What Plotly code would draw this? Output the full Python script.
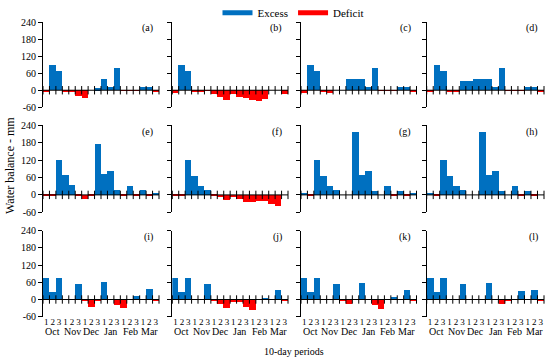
import plotly.graph_objects as go

# ---------------- data ----------------
months = ["Oct", "Nov", "Dec", "Jan", "Feb", "Mar"]
dekad_labels = ["1", "2", "3"] * 6
panel_tags = ["(a)", "(b)", "(c)", "(d)", "(e)", "(f)",
              "(g)", "(h)", "(i)", "(j)", "(k)", "(l)"]
y_ticks = [-60, 0, 60, 120, 180, 240]
y_tick_text = ["-60", "0", "60", "120", "180", "240"]

wb_a = [-7, 90, 68, -3, -7, -21, -26, 0, 7, 41, 10, 79, -2, -2, -2, 10, 13, -3]
wb_b = [-8, 90, 67, -3, -6, -2, -13, -24, -35, -14, -22, -27, -33, -39, -32, 0, 0, -12]
wb_c = [-8, 90, 67, -3, -8, 0, 0, 38, 38, 40, 10, 78, -2, -2, -2, 10, 12, -3]
wb_d = [-7, 90, 68, -3, -3, 32, 32, 38, 38, 40, 10, 79, -2, -2, -2, 10, 13, -3]
wb_e = [-2, -3, 121, 66, 32, -4, -14, -3, 175, 72, 83, 15, -3, 31, -3, 15, -5, 3]
wb_f = [-3, -3, 120, 65, 31, 16, -3, -8, -17, -8, -14, -25, -25, -23, -23, -31, -38, 0]
wb_g = [4, -3, 120, 64, 30, 15, 0, 0, 215, 68, 80, 13, 0, 28, -3, 13, -3, 5]
wb_h = [3, -3, 119, 63, 29, 15, 0, 0, 215, 68, 80, 12, 0, 29, -3, 14, -3, 0]
wb_i = [77, 27, 77, 0, 0, 56, -5, -26, -3, 62, 0, -17, -29, 0, 13, 0, 36, -5]
wb_j = [76, 26, 76, 0, 0, 55, -5, -14, -29, -8, -8, -25, -37, 0, 3, 0, 35, -5]
wb_k = [75, 26, 75, 0, 0, 55, -5, -15, 0, 58, 0, -17, -31, 0, 10, 0, 35, -5]
wb_l = [76, 26, 76, 0, 0, 55, 0, 0, 0, 59, 0, -15, -5, 0, 29, 0, 35, -5]

panels = [wb_a, wb_b, wb_c, wb_d, wb_e, wb_f, wb_g, wb_h, wb_i, wb_j, wb_k, wb_l]

# ---------------- style ----------------
EXCESS = "#0070C0"
DEFICIT = "#FF0000"
FONT = "Liberation Serif"
W, H = 550, 360
col_px = [(43, 159), (172.3, 288), (301, 416.5), (426.7, 544)]
row_px = [(22, 107.3), (125.3, 212.3), (230.7, 316.7)]

fig = go.Figure()
layout = {}
annotations = []

for k, vals in enumerate(panels):
    r, c = divmod(k, 4)
    n = k + 1
    sfx = "" if n == 1 else str(n)
    xa, ya = "x" + sfx, "y" + sfx
    idx = list(range(len(vals)))
    colors = [EXCESS if v >= 0 else DEFICIT for v in vals]
    fig.add_trace(go.Bar(x=idx, y=vals, marker=dict(color=colors, line=dict(width=0)),
                         width=1, xaxis=xa, yaxis=ya, showlegend=False, hoverinfo="skip"))
    # zero baseline with crossing ticks at period boundaries
    bx = [i - 0.5 for i in range(len(vals) + 1)]
    fig.add_trace(go.Scatter(x=bx, y=[0] * len(bx), mode="lines+markers",
                             line=dict(color="black", width=1),
                             marker=dict(symbol="line-ns", size=6, color="black",
                                         line=dict(width=1, color="black")),
                             xaxis=xa, yaxis=ya, showlegend=False, hoverinfo="skip",
                             cliponaxis=False))
    x0, x1 = col_px[c]
    yt, yb = row_px[r]
    layout["xaxis" + sfx] = dict(domain=[x0 / W, x1 / W], anchor=ya, range=[-0.5, 17.5],
                                 showgrid=False, zeroline=False, showline=False, ticks="",
                                 tickvals=idx, ticktext=dekad_labels, tickangle=0,
                                 automargin=False, ticklabelstandoff=-2,
                                 showticklabels=(r == 2), tickfont=dict(size=9))
    layout["yaxis" + sfx] = dict(domain=[1 - yb / H, 1 - yt / H], anchor=xa, range=[-60, 240],
                                 tickvals=y_ticks, ticktext=y_tick_text, ticks="outside",
                                 ticklen=4, tickcolor="black", showline=True,
                                 linecolor="black", linewidth=1, showgrid=False,
                                 zeroline=False, showticklabels=(c == 0), automargin=False,
                                 tickfont=dict(size=10))
    annotations.append(dict(text=panel_tags[k], xref=xa + " domain", yref=ya + " domain",
                            x=0.966, y=0.924, xanchor="right", yanchor="middle",
                            showarrow=False, font=dict(size=10)))
    if r == 2:
        for m, name in enumerate(months):
            annotations.append(dict(text=name, xref=xa, yref="paper", x=3 * m + 1,
                                    y=1 - 331.5 / H, xanchor="center", yanchor="middle",
                                    showarrow=False, font=dict(size=10)))

# legend-only entries
fig.add_trace(go.Scatter(x=[None], y=[None], mode="lines", name="Excess",
                         line=dict(color=EXCESS, width=5)))
fig.add_trace(go.Scatter(x=[None], y=[None], mode="lines", name="Deficit",
                         line=dict(color=DEFICIT, width=5)))

annotations.append(dict(text="Water balance - mm", xref="paper", yref="paper",
                        x=10 / W, y=1 - 166 / H, textangle=-90, xanchor="center",
                        yanchor="middle", showarrow=False, font=dict(size=12)))
annotations.append(dict(text="10-day periods", xref="paper", yref="paper",
                        x=293.5 / W, y=1 - 351.7 / H, xanchor="center", yanchor="middle",
                        showarrow=False, font=dict(size=10)))

fig.update_layout(**layout)
fig.update_layout(
    width=W, height=H, margin=dict(l=0, r=0, t=0, b=0, pad=0, autoexpand=False),
    paper_bgcolor="white", plot_bgcolor="white",
    font=dict(family=FONT, color="black", size=10),
    bargap=0, annotations=annotations,
    legend=dict(orientation="h", x=293.5 / W, xanchor="center", y=1.005,
                yanchor="top", font=dict(size=11), bgcolor="rgba(0,0,0,0)",
                itemwidth=30),
)

fig.write_html("out.html", config={"displayModeBar": False},
               post_script="document.body.style.margin='0';document.body.style.padding='0';")
